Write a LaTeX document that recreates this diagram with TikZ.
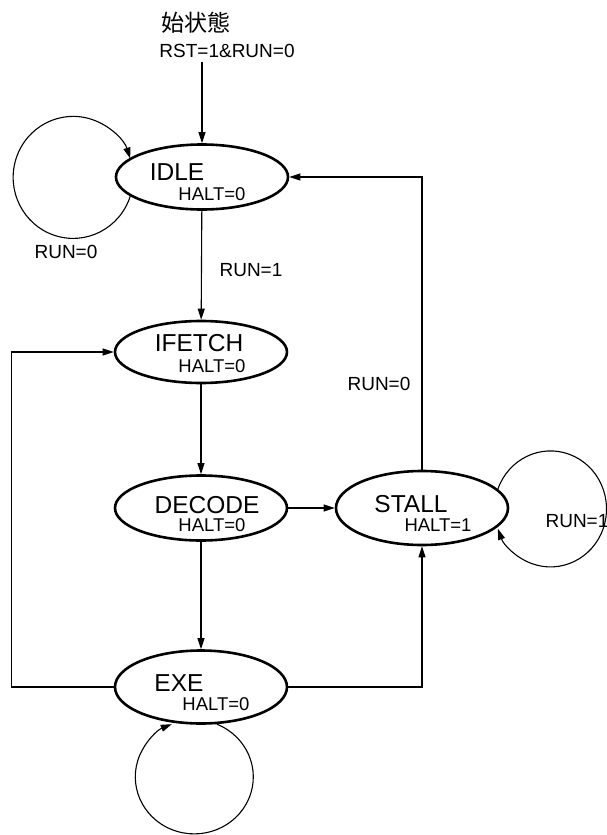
\documentclass[tikz,border=0pt]{standalone}
\usepackage{fontspec}
\setmainfont{Liberation Sans}
\newfontfamily\cjkfont{Noto Sans CJK JP}
\usetikzlibrary{arrows.meta}
\usetikzlibrary{shapes.geometric}

\begin{document}
\begin{tikzpicture}[x=1pt, y=1pt,
	statebox/.style={ellipse, draw, line width=2.6pt, minimum width=172pt, inner sep=0pt},
	sname/.style={inner sep=0pt, font=\fontsize{24.5}{28}\selectfont},
	halt/.style={inner sep=0pt, font=\fontsize{18.5}{21}\selectfont},
	cond/.style={inner sep=0pt, font=\fontsize{19}{22}\selectfont},
	arr/.style={line width=1.1pt, -{Triangle[length=11pt, width=7pt]}}]
	\useasboundingbox (0,0) rectangle (607,-835);

	% draw states
	\node [statebox, minimum height=65pt] (idle) at (202,-177) {};
	\node [statebox, minimum height=62pt] (ifetch) at (201,-352) {};
	\node [statebox, minimum height=65pt] (decode) at (201,-508) {};
	\node [statebox, minimum height=74pt] (stall) at (422,-508) {};
	\node [statebox, minimum height=73pt] (exe) at (201,-687) {};

	% write state names and outputs
	\node [sname] (idlename) at (177,-172) {IDLE};
	\node [halt] (idlehalt) at (212,-194) {HALT=0};
	\node [sname] (ifetchname) at (199,-343) {IFETCH};
	\node [halt] (ifetchhalt) at (212,-366) {HALT=0};
	\node [sname] (decodename) at (207,-505) {DECODE};
	\node [halt] (decodehalt) at (212,-525) {HALT=0};
	\node [sname] (stallname) at (411,-504) {STALL};
	\node [halt] (stallhalt) at (438,-525) {HALT=1};
	\node [sname] (exename) at (179,-683) {EXE};
	\node [halt] (exehalt) at (216,-704) {HALT=0};

	% initial state
	\node [inner sep=0pt, font=\cjkfont\fontsize{23}{27}\selectfont] (inittxt) at (196,-23) {始状態};
	\node [cond] (rstcond) at (227,-51) {RST=1\&RUN=0};
	\coordinate (init) at (202,-62);
	\draw [arr] (init) -- (idle);

	% draw transitions
	\draw [arr] (idle) -- (ifetch);
	\draw [arr] (ifetch) -- (decode);
	\draw [arr] (decode) -- (exe);
	\draw [arr] (decode) -- (stall);
	\draw [arr] (stall.north) |- (idle.east);
	\draw [arr] (exe.east) -| (stall.south);
	\draw [arr] (exe.west) -- ++(-102,0) |- (ifetch.west);

	% draw self loops
	\draw [arr] (idle.195) arc[start angle=-18, end angle=-342, x radius=60, y radius=61];
	\draw [arr] (stall.14) arc[start angle=160, end angle=-160, x radius=56, y radius=58];
	\draw [arr] (exe.-67) arc[start angle=67.6, end angle=-247.6, x radius=59, y radius=57];

	% write conditions
	\node [cond] (idlestay) at (66,-252) {RUN=0};
	\node [cond] (idlerun) at (251,-270) {RUN=1};
	\node [cond] (stallback) at (379,-384) {RUN=0};
	\node [cond] (stallstay) at (577,-521) {RUN=1};
\end{tikzpicture}
\end{document}
